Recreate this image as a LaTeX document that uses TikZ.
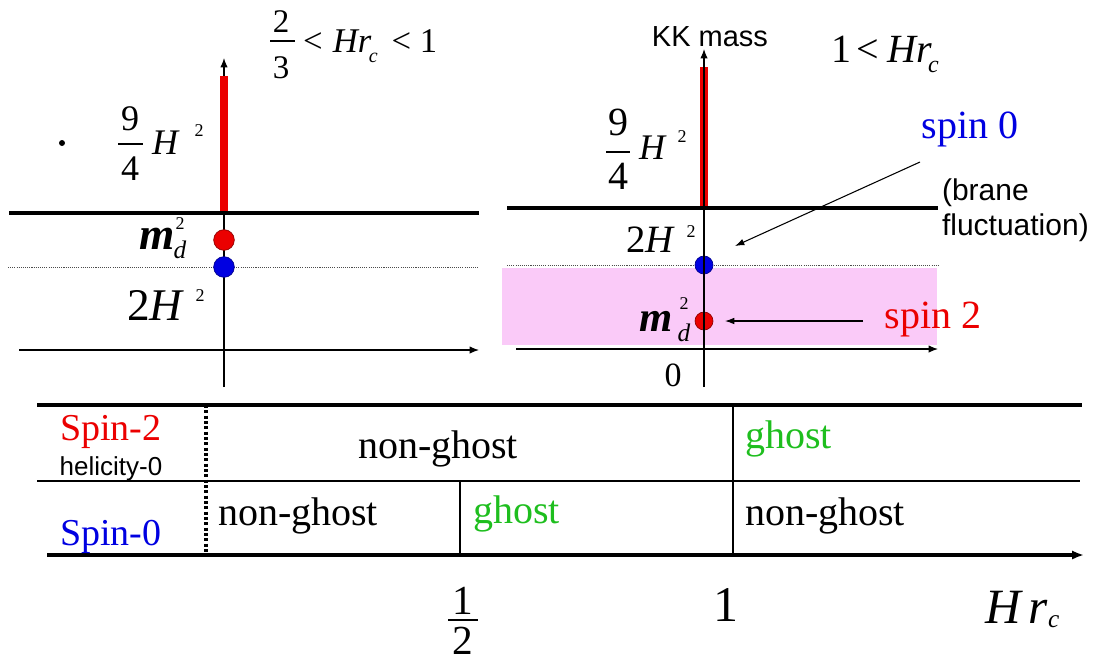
\documentclass[tikz,border=0pt]{standalone}
\usepackage{fontspec}
\setmainfont{Liberation Serif}
\setsansfont{Liberation Sans}
\usetikzlibrary{arrows.meta}
\definecolor{myred}{RGB}{235,0,0}
\definecolor{myblue}{RGB}{0,0,225}
\definecolor{mygreen}{RGB}{30,190,30}
\definecolor{mypink}{RGB}{250,202,248}
\newcommand{\px}[1]{\fontsize{#1}{#1}\selectfont}
\begin{document}
\begin{tikzpicture}[x=0.75pt,y=-0.75pt,
  txt/.style={inner sep=0pt,outer sep=0pt},
  thickline/.style={line width=2.4pt},
  thinline/.style={line width=0.9pt},
  fracbar/.style={line width=0.9pt},
  axis/.style={line width=0.9pt,-{Latex[length=7pt,width=5.5pt]}},
  bigaxis/.style={line width=2.4pt,-{Latex[length=9pt,width=7pt]}},
  pointer/.style={line width=0.8pt,-{Latex[length=7pt,width=5pt]}},
  redbar/.style={myred,line width=5.5pt},
  dotline/.style={line width=0.7pt,dash pattern=on 0.8pt off 0.8pt,black!70},
  vdots/.style={line width=2.4pt,dash pattern=on 2.2pt off 1.8pt},
  rdot/.style={circle,inner sep=0pt,fill=myred,draw=red!55!black,line width=0.5pt},
  bdot/.style={circle,inner sep=0pt,fill=myblue,draw=blue!55!black,line width=0.5pt}]
\useasboundingbox (0,0) rectangle (1105,662);

% ---------------- left panel ----------------
\coordinate (LthA) at (9,213);   \coordinate (LthB) at (479,213);
\coordinate (LdoA) at (8,267);   \coordinate (LdoB) at (478,267);
\coordinate (LhxA) at (19,350);  \coordinate (LhxB) at (479,350);
\coordinate (LaxB) at (224,387); \coordinate (LaxT) at (224,58);
\coordinate (LrbB) at (224,213); \coordinate (LrbT) at (224,76);
\draw[dotline] (LdoA) -- (LdoB);
\draw[thinline,-{Latex[length=7pt,width=5.5pt]}] (LhxA) -- (LhxB);
\draw[axis] (LaxB) -- (LaxT);
\draw[redbar] (LrbB) -- (LrbT);
\draw[thickline] (LthA) -- (LthB);
\node[rdot,minimum size=15.5pt] (Lred) at (224,240) {};
\node[bdot,minimum size=15.5pt] (Lblue) at (224,267) {};
\node[circle,fill=black,inner sep=0pt,minimum size=4.5pt] (bullet) at (62,143) {};

\node[txt,font=\px{27}] (L9) at (130,119) {9};
\node[txt,font=\px{27}] (L4) at (130,169) {4};
\draw[fracbar] (118,144) -- (143,144);
\node[txt,font=\px{27}\itshape] (LH) at (165,143) {H};
\node[txt,font=\px{13.5}] (LHs) at (199,131) {2};

\node[txt,font=\px{34}\bfseries\itshape] (Lm) at (157,239) {m};
\node[txt,font=\px{13.5}] (Lms) at (180,224) {2};
\node[txt,font=\px{19}\itshape] (Lmd) at (180,250) {d};

\node[txt,font=\px{34}] (L2H) at (156,305) {2\textit{H}};
\node[txt,font=\px{13.5}] (L2Hs) at (200,296) {2};

\node[txt,font=\px{24.75}] (L23n) at (281,22) {2};
\node[txt,font=\px{24.75}] (L23d) at (281,68) {3};
\draw[fracbar] (270,41) -- (295,41);
\node[txt,anchor=base west,font=\px{26}] (Lcond) at (303,52)
  {<\hspace{0.3em}\textit{Hr}\hspace{-0.08em}\raisebox{-0.3em}{\px{15}\textit{c}}\hspace{0.4em}<\hspace{0.25em}1};

% ---------------- right panel ----------------
\fill[mypink] (502,268) rectangle (937,345);
\coordinate (RthA) at (507,208); \coordinate (RthB) at (938,208);
\coordinate (RdoA) at (507,265); \coordinate (RdoB) at (938,265);
\coordinate (RhxA) at (516,349); \coordinate (RhxB) at (938,349);
\coordinate (RaxB) at (704,387); \coordinate (RaxT) at (704,49);
\coordinate (RrbB) at (704,208); \coordinate (RrbT) at (704,67);
\draw[dotline] (RdoA) -- (RdoB);
\draw[thinline,-{Latex[length=7pt,width=5.5pt]}] (RhxA) -- (RhxB);
\draw[redbar] (RrbB) -- (RrbT);
\draw[thickline] (RthA) -- (RthB);
\node[bdot,minimum size=13.5pt] (Rblue) at (704,265) {};
\node[rdot,minimum size=13.5pt] (Rred) at (704,321) {};
\draw[axis] (RaxB) -- (RaxT);

\node[txt,font=\sffamily\px{21.75}] (KK) at (710,37) {KK mass};
\node[txt,anchor=base west,font=\px{30}] (Rcond) at (831,62)
  {1\hspace{0.15em}<\hspace{0.2em}\textit{Hr}\hspace{-0.1em}\raisebox{-0.25em}{\px{18}\textit{c}}};

\node[txt,font=\px{30}] (R9) at (618,122) {9};
\node[txt,font=\px{30}] (R4) at (618,176) {4};
\draw[fracbar] (606,152) -- (630,152);
\node[txt,font=\px{27}\itshape] (RH) at (652,148) {H};
\node[txt,font=\px{13.5}] (RHs) at (682,137) {2};

\node[txt,font=\px{29}] (R2H) at (651,240) {2\textit{H}};
\node[txt,font=\px{13.5}] (R2Hs) at (691,232) {2};

\node[txt,font=\px{32}\bfseries\itshape] (Rm) at (656,321) {m};
\node[txt,font=\px{13.5}] (Rms) at (684,304) {2};
\node[txt,font=\px{19}\itshape] (Rmd) at (684,333) {d};
\node[txt,font=\px{25.5}] (R0) at (673,375) {0};

\node[txt,anchor=base,font=\px{30},text=myblue] (spin0) at (970,138) {spin 0};
\node[txt,anchor=base,font=\px{30},text=myred] (spin2) at (933,328) {spin 2};
\node[txt,anchor=base west,font=\sffamily\px{22.5}] (brane) at (942,200) {(brane};
\node[txt,anchor=base west,font=\sffamily\px{22.5}] (fluct) at (942,235) {fluctuation)};
\coordinate (p0s) at (920,162); \coordinate (p0e) at (735,246);
\coordinate (p2s) at (863,321); \coordinate (p2e) at (725,321);
\draw[pointer] (p0s) -- (p0e);
\draw[pointer] (p2s) -- (p2e);

% ---------------- bottom table ----------------
\coordinate (TtA) at (37,405);  \coordinate (TtB) at (1082,405);
\coordinate (TmA) at (37,481);  \coordinate (TmB) at (1080,481);
\coordinate (TbA) at (47,555);  \coordinate (TbB) at (1084,555);
\coordinate (Vd1) at (206,405); \coordinate (Vd2) at (206,555);
\coordinate (Vh1) at (460,481); \coordinate (Vh2) at (460,555);
\coordinate (Vo1) at (733,405); \coordinate (Vo2) at (733,555);
\draw[thickline] (TtA) -- (TtB);
\draw[line width=1.1pt] (TmA) -- (TmB);
\draw[vdots] (Vd1) -- (Vd2);
\draw[thinline] (Vh1) -- (Vh2);
\draw[thinline] (Vo1) -- (Vo2);
\draw[bigaxis] (TbA) -- (TbB);

\node[txt,anchor=base west,font=\px{28.5},text=myred] (sp2) at (60,440) {Spin-2};
\node[txt,anchor=base,font=\sffamily\px{19.5}] (heli) at (111,475) {helicity-0};
\node[txt,anchor=base west,font=\px{28.5},text=myblue] (sp0) at (60,545) {Spin-0};
\node[txt,anchor=base,font=\px{30}] (ng1) at (438,458) {non-ghost};
\node[txt,anchor=base west,font=\px{30}] (ng2) at (218,525) {non-ghost};
\node[txt,anchor=base west,font=\px{30},text=mygreen] (gh1) at (473,523) {ghost};
\node[txt,anchor=base west,font=\px{30},text=mygreen] (gh2) at (745,448) {ghost};
\node[txt,anchor=base west,font=\px{30}] (ng3) at (745,525) {non-ghost};

\node[txt,font=\px{31}] (h1) at (463,601) {1};
\node[txt,font=\px{31}] (h2) at (463,641) {2};
\draw[fracbar] (448,620) -- (478,620);
\node[txt,font=\px{37.5}] (one) at (726,605) {1};
\node[txt,anchor=base west,font=\px{37}] (Hrc) at (985,623)
  {\textit{H}\hspace{0.12em}\textit{r}\raisebox{-0.1em}{\px{19}\textit{c}}};
\end{tikzpicture}
\end{document}
